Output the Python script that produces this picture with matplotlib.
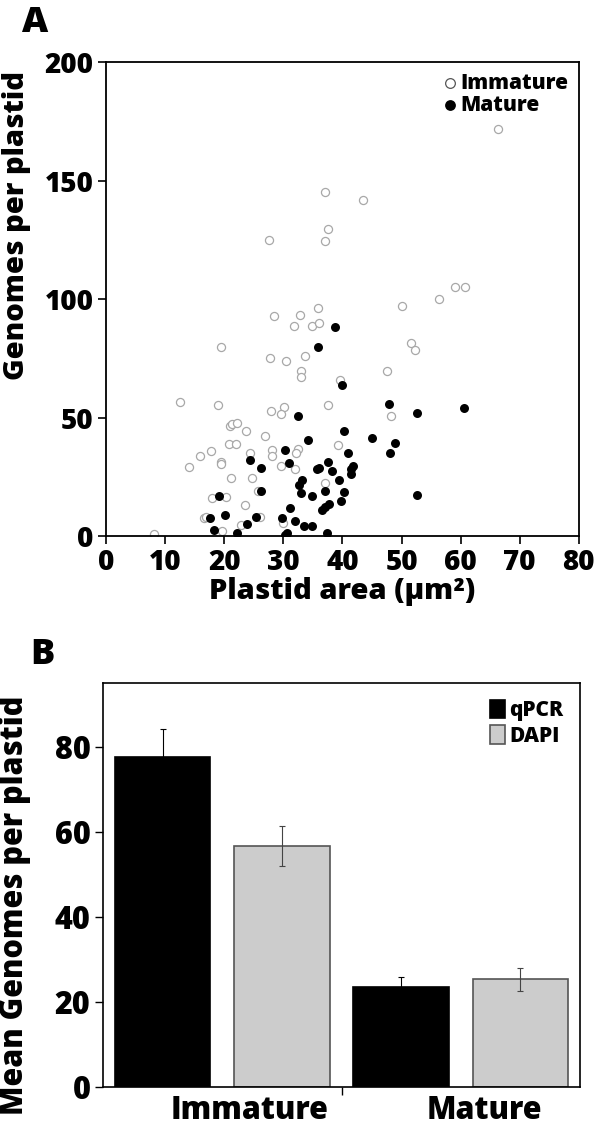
import numpy as np
import matplotlib
matplotlib.use('Agg')
import matplotlib.pyplot as plt
from matplotlib.transforms import blended_transform_factory

plt.rcParams['font.family'] = ['Open Sans', 'DejaVu Sans']
plt.rcParams['font.weight'] = 800
plt.rcParams['axes.labelweight'] = 800

# panel A: plastid area vs genomes per plastid
imm_area = [66.4, 37.1, 43.5, 37.6, 27.6, 37.0, 59.1, 60.7, 56.4, 50.0,
            28.5, 32.8, 35.8, 31.8, 34.8, 36.0, 51.6, 52.3, 19.4, 27.7,
            30.5, 33.6, 33.0, 33.0, 39.6, 47.6, 12.6, 19.0, 27.9, 30.1,
            29.6, 37.5, 48.2, 21.0, 21.4, 22.1, 23.7, 26.9, 20.8, 22.0,
            24.4, 17.8, 15.9, 19.5, 19.4, 14.0, 28.0, 28.0, 32.4, 32.2,
            39.2, 29.6, 31.9, 21.2, 24.7, 37.1, 25.7, 17.9, 20.3, 23.6,
            16.5, 17.0, 26.0, 30.0, 22.9, 19.6, 8.2]
imm_genomes = [171.7, 145.1, 141.7, 129.7, 124.9, 124.5, 105.2, 105.3, 99.9, 97.2,
               93.1, 93.5, 96.2, 88.7, 88.5, 89.8, 81.5, 78.5, 79.8, 75.2,
               74.1, 75.8, 69.7, 67.2, 66.0, 69.6, 56.5, 55.1, 52.8, 54.6,
               51.5, 55.3, 50.6, 46.6, 47.3, 47.6, 44.5, 42.1, 38.7, 38.8,
               35.2, 36.0, 33.9, 31.1, 30.4, 29.2, 36.2, 33.7, 36.8, 35.2,
               38.6, 29.6, 28.2, 24.6, 24.5, 22.5, 19.1, 16.2, 16.3, 13.0,
               7.4, 7.9, 8.1, 5.6, 4.8, 2.3, 1.0]

mat_area = [38.7, 35.8, 40.0, 47.8, 60.6, 52.6, 32.4, 40.3, 34.2, 45.0,
            48.9, 48.1, 24.3, 26.3, 30.2, 30.9, 41.0, 37.6, 35.7, 36.0,
            38.2, 41.8, 41.5, 41.4, 33.1, 32.6, 39.5, 19.2, 26.2, 33.0,
            34.9, 37.1, 40.2, 52.7, 31.2, 36.5, 37.0, 37.8, 39.7, 17.6,
            20.2, 25.4, 29.7, 31.9, 23.8, 33.5, 34.9, 18.2, 22.1, 30.3,
            30.7, 37.4]
mat_genomes = [88.4, 79.7, 63.7, 55.9, 54.1, 52.0, 50.5, 44.4, 40.4, 41.5,
               39.2, 35.1, 32.0, 28.9, 36.4, 31.0, 34.9, 31.1, 28.2, 28.6,
               27.5, 29.7, 28.2, 26.1, 23.8, 21.5, 23.5, 16.8, 19.0, 18.3,
               16.9, 19.1, 18.5, 17.3, 11.9, 10.9, 12.3, 13.6, 14.7, 7.7,
               8.8, 8.0, 7.7, 6.3, 5.0, 4.3, 4.1, 2.7, 1.4, 0.3,
               1.1, 1.1]

# panel B: mean genomes per plastid
groups = ['Immature', 'Mature']
methods = ['qPCR', 'DAPI']
means = [77.5, 56.7, 23.5, 25.3]   # qPCR imm, DAPI imm, qPCR mat, DAPI mat
errors = [6.8, 4.7, 2.4, 2.7]

fig = plt.figure(figsize=(6, 11.25), dpi=100)

# ---- A ----
ax1 = fig.add_axes([0.1767, 0.5236, 0.788, 0.4209])
ax1.scatter(imm_area, imm_genomes, s=34, facecolors='white', edgecolors='#a8a8a8',
            linewidths=0.9, label='Immature', zorder=2)
ax1.scatter(mat_area, mat_genomes, s=42, color='black', linewidths=0,
            label='Mature', zorder=3)
ax1.set_xlim(0, 80)
ax1.set_ylim(0, 200)
ax1.set_xticks(range(0, 81, 10))
ax1.set_yticks([0, 50, 100, 150, 200])
ax1.tick_params(direction='out', length=6, width=1.2, labelsize=20, pad=3)
for s in ax1.spines.values():
    s.set_linewidth(1.3)
ax1.set_xlabel('Plastid area (µm²)', fontsize=21, labelpad=0)
ax1.set_ylabel('Genomes per plastid', fontsize=21)
ax1.yaxis.set_label_coords(-0.158, 0.655)
leg1 = ax1.legend(loc='upper right', frameon=False, fontsize=15, handletextpad=0.0,
                  borderaxespad=0.1, labelspacing=0.05, handlelength=1.0,
                  markerscale=1.2)
leg1.legend_handles[0].set_edgecolor('#555555')
fig.text(0.058, 0.98, 'A', fontsize=26, va='center', ha='center')

# ---- B ----
ax2 = fig.add_axes([0.1717, 0.0338, 0.795, 0.359])
x = np.arange(len(means))
colors = ['black', '#cccccc', 'black', '#cccccc']
edges = ['black', '#555555', 'black', '#555555']
ecols = ['black', '#444444', 'black', '#444444']
for i in range(len(means)):
    ax2.bar(x[i], means[i], width=0.8, color=colors[i], edgecolor=edges[i],
            linewidth=1.2, label=methods[i % 2] if i < 2 else None, zorder=2)
    ax2.errorbar(x[i], means[i], yerr=errors[i], fmt='none', ecolor=ecols[i],
                 elinewidth=0.8, capsize=2.5, capthick=0.8, zorder=3)
ax2.set_xlim(-0.5, 3.5)
ax2.set_ylim(0, 95)
ax2.set_yticks([0, 20, 40, 60, 80])
ax2.set_xticks([1.5])
ax2.set_xticklabels([''])
ax2.tick_params(direction='out', length=6, width=1.0, labelsize=22, pad=3)
for s in ax2.spines.values():
    s.set_linewidth(1.2)
tr = blended_transform_factory(ax2.transData, ax2.transAxes)
for gx, g in zip([0.73, 2.7], groups):
    ax2.text(gx, -0.02, g, transform=tr, ha='center', va='top', fontsize=22)
ax2.set_ylabel('Mean Genomes per plastid', fontsize=22)
ax2.yaxis.set_label_coords(-0.152, 0.45)
ax2.legend(loc='upper right', frameon=False, fontsize=15, handlelength=0.7,
           handleheight=1.0, handletextpad=0.2, labelspacing=0.2,
           borderaxespad=0.4)
fig.text(0.07, 0.418, 'B', fontsize=26, va='center', ha='center')

fig.savefig('out.png', dpi=100)
